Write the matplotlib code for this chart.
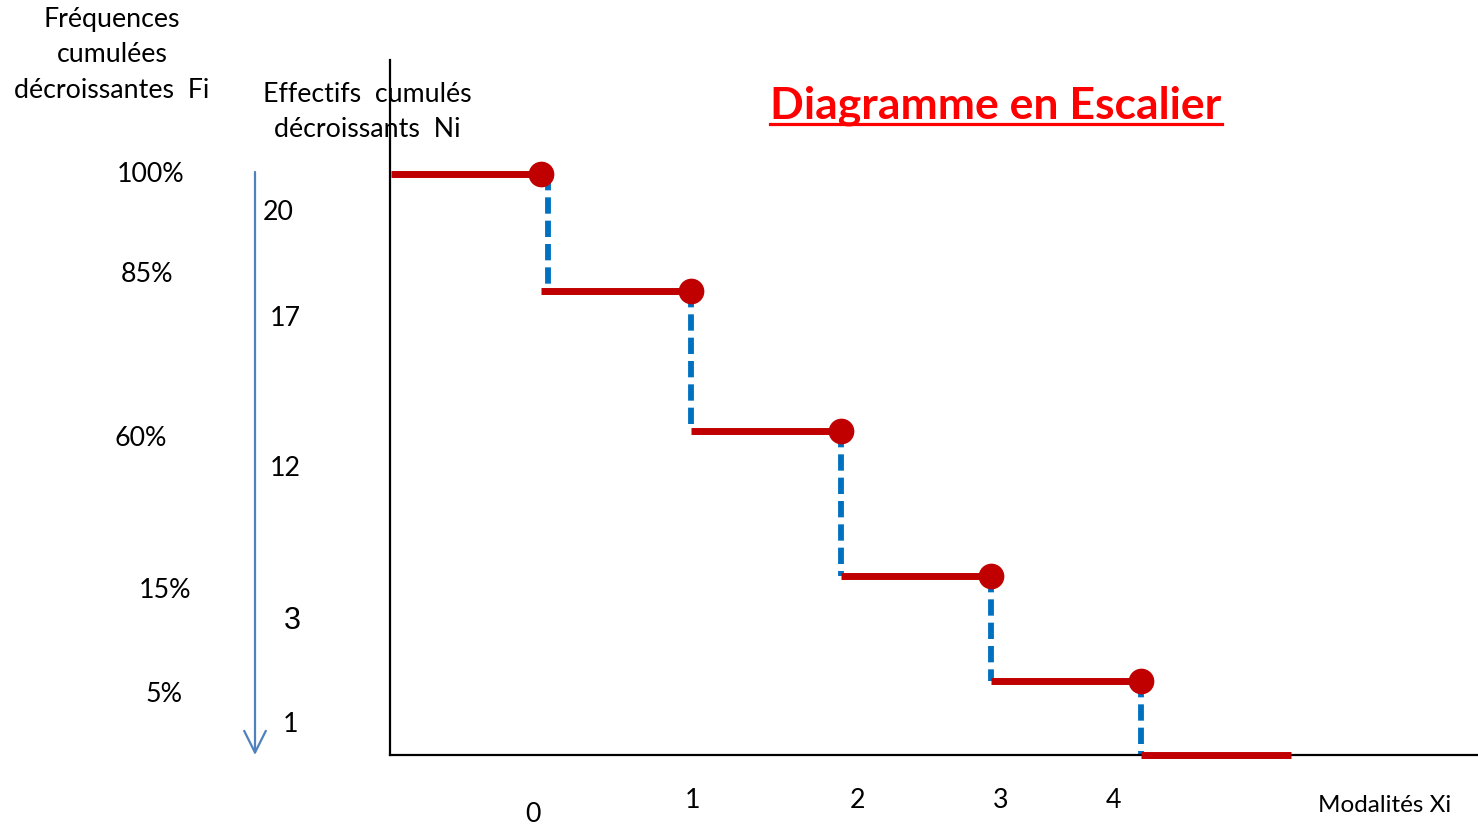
import numpy as np
import matplotlib
matplotlib.use("Agg")
import matplotlib.pyplot as plt

# modalities and decreasing cumulative counts / frequencies
modalites = [0, 1, 2, 3, 4]
ni_cumules = [20, 17, 12, 3, 1]
fi_cumules = [100, 85, 60, 15, 5]
n_total = 20

W, H = 1478, 826

# the vertical axis is not to scale: each level gets its own height (pixels above the x axis)
niveaux_n = [0, 1, 3, 12, 17, 20, 23]
niveaux_h = [0, 74, 179, 324, 464, 581, 695]


def fwd(n):
    return np.interp(n, niveaux_n, niveaux_h)


def inv(h):
    return np.interp(h, niveaux_h, niveaux_n)


def px(x, y):
    return x / W, 1 - y / H


plt.rcParams['font.family'] = ['Lato', 'DejaVu Sans']

fig = plt.figure(figsize=(W / 100, H / 100), dpi=100)
ax = fig.add_axes([390 / W, (H - 755) / H, (W - 390) / W, (755 - 60) / H])
ax.set_yscale('function', functions=(fwd, inv))
ax.set_xlim(-1.005, (W - 541) / 150)
ax.set_ylim(0, 23)
ax.spines['top'].set_visible(False)
ax.spines['right'].set_visible(False)
for s in ('left', 'bottom'):
    ax.spines[s].set_linewidth(1.6)
    ax.spines[s].set_color('black')
ax.set_xticks([])
ax.set_yticks([])
ax.patch.set_alpha(0)

rouge = '#C00000'
bleu = '#0070C0'

# horizontal steps
niveaux = [ni_cumules[0]] + ni_cumules[1:] + [0]
debuts = [-1] + modalites
for x0, n in zip(debuts, niveaux):
    ax.plot([x0, x0 + 1], [n, n], color=rouge, lw=5, solid_capstyle='butt', zorder=3,
            clip_on=False)

# dashed jumps at each modality
apres = ni_cumules[1:] + [0]
for x, n0, n1 in zip(modalites, ni_cumules, apres):
    xd = x + (0.05 if x == 0 else 0)
    ax.plot([xd, xd], [n0, n1], color=bleu, lw=4.2, dashes=(2.8, 1.2), zorder=2,
            clip_on=False)

ax.plot(modalites, ni_cumules, 'o', color=rouge, ms=17.5, zorder=4, clip_on=False)

# down arrow on the left
fig.add_artist(matplotlib.patches.FancyArrowPatch(
    px(255, 172), px(255, 755), transform=fig.transFigure,
    arrowstyle='->,head_length=12,head_width=6', color='#4F81BD', lw=1.6,
    mutation_scale=1.3, shrinkA=0, shrinkB=0))

fs = 19.3
fig.text(*px(112, 55), "Fréquences\ncumulées\ndécroissantes  Fi", ha='center', va='center',
         fontsize=fs, linespacing=1.5)
fig.text(*px(367, 112), "Effectifs  cumulés\ndécroissants  Ni", ha='center', va='center',
         fontsize=fs, linespacing=1.5)

fig.text(*px(996, 119), "Diagramme en Escalier", ha='center', va='baseline',
         fontsize=32, fontweight='bold', color='#FF0000')
fig.add_artist(matplotlib.lines.Line2D([770 / W, 1222 / W], [1 - 124 / H, 1 - 124 / H],
                                       color='#FF0000', lw=2.3))

# level labels, placed freely beside the arrow
pos_fi = [(151, 174), (147, 274), (141, 439), (165, 590), (164, 695)]
pos_ni = [(278, 213), (285, 318), (285, 468), (292, 621), (291, 725)]
for f, (x, y) in zip(fi_cumules, pos_fi):
    fig.text(*px(x, y), f"{f}%", ha='center', va='center', fontsize=fs)
for n, (x, y) in zip(ni_cumules, pos_ni):
    if n == 3:
        fig.text(*px(x, y), str(n), ha='center', va='center', fontsize=22,
                 family='Liberation Sans')
    else:
        fig.text(*px(x, y), str(n), ha='center', va='center', fontsize=fs)

pos_x = [(533, 815), (693, 800), (858, 800), (1001, 800), (1113, 800)]
for m, (x, y) in zip(modalites, pos_x):
    fig.text(*px(x, y), str(m), ha='center', va='center', fontsize=fs)
fig.text(*px(1385, 805), "Modalités Xi", ha='center', va='center', fontsize=17.5)

fig.savefig("out.png", dpi=100)
